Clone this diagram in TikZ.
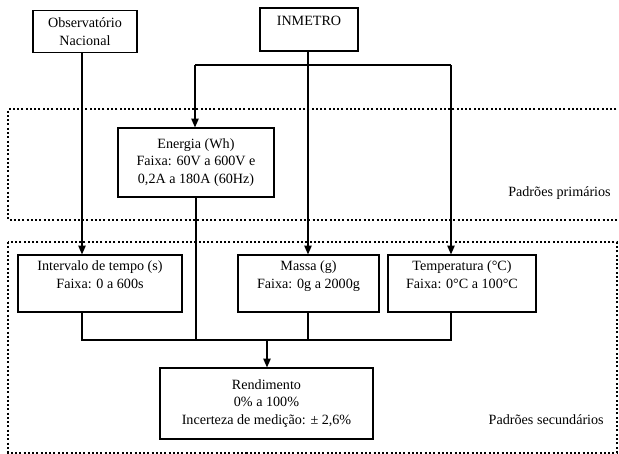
\documentclass[tikz,border=0pt]{standalone}
\usepackage{fontspec}
\setmainfont{Liberation Serif}
\usetikzlibrary{arrows.meta}
\begin{document}
\begin{tikzpicture}[x=0.75pt,y=-0.75pt,
  box/.style={draw,line width=0.9pt,align=center,inner sep=0pt,
    font=\fontsize{10.6}{13.1}\selectfont},
  zone/.style={line width=1.5pt,dash pattern=on 1.5pt off 1.7pt},
  conn/.style={line width=0.9pt},
  arr/.style={conn,-{Triangle[length=6.5pt,width=5.5pt]}},
  lbl/.style={font=\fontsize{10.6}{13.1}\selectfont,anchor=east,inner sep=0pt}]
\useasboundingbox (0,0) rectangle (619,454);
% zones
\draw[zone] (625,109) -- (8,109) -- (8,220) -- (625,220);
\draw[zone] (8,242) rectangle (617,452.5);
\node[lbl] (pp) at (611,193) {Padrões primários};
\node[lbl] (ps) at (604,420) {Padrões secundários};
% boxes
\node[box,minimum width=104*0.75pt,minimum height=42*0.75pt] (obs) at (85,31.5) {Observatório\\Nacional};
\node[box,minimum width=98*0.75pt,minimum height=43*0.75pt] (inm) at (309,29.5) {INMETRO\\\mbox{}};
\node[box,minimum width=156*0.75pt,minimum height=69*0.75pt] (ene) at (196,162.5) {Energia (Wh)\\Faixa: 60V a 600V e\\0,2A a 180A (60Hz)};
\node[box,minimum width=164*0.75pt,minimum height=57*0.75pt] (int) at (100,283.5) {Intervalo de tempo (s)\\Faixa: 0 a 600s\\\mbox{}};
\node[box,minimum width=141*0.75pt,minimum height=57*0.75pt] (mas) at (308.5,283.5) {Massa (g)\\Faixa: 0g a 2000g\\\mbox{}};
\node[box,minimum width=148*0.75pt,minimum height=57*0.75pt] (tem) at (462,283.5) {Temperatura (°C)\\Faixa: 0°C a 100°C\\\mbox{}};
\node[box,minimum width=213*0.75pt,minimum height=71*0.75pt] (ren) at (266.5,403.5) {Rendimento\\0\% a 100\%\\Incerteza de medição: ± 2,6\%};
% coordinates
\coordinate (jt) at (308,65);
\coordinate (jl) at (195,65);
\coordinate (jr) at (451,65);
\coordinate (cl) at (82,340);
\coordinate (cr) at (451,340);
\coordinate (cm) at (267,340);
% connectors
\draw[arr] (obs.south -| cl) -- (int.north -| cl);
\draw[arr] (inm.south -| jt) -- (mas.north -| jt);
\draw[conn] (jl) -- (jr);
\draw[arr] (jl) -- (ene.north -| jl);
\draw[arr] (jr) -- (tem.north -| jr);
\draw[conn] (ene.south -| 196,0) -- (196,340);
\draw[conn] (int.south -| cl) -- (cl) -- (cr) -- (tem.south -| cr);
\draw[conn] (mas.south -| jt) -- (jt |- cl);
\draw[arr] (cm) -- (ren.north -| cm);
\end{tikzpicture}
\end{document}
